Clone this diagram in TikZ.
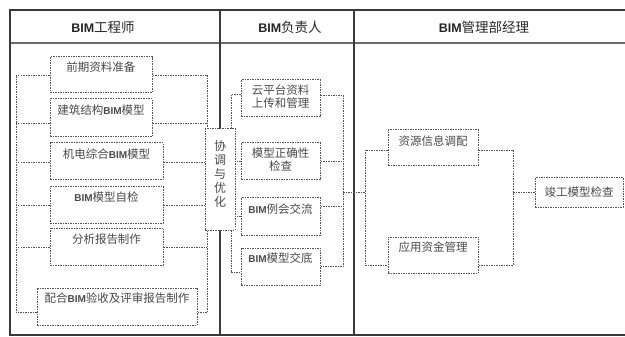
\documentclass[tikz,border=0pt]{standalone}
\usepackage{fontspec}
\newfontfamily\cjk{Noto Sans CJK SC}
\newfontfamily\latn{Liberation Sans}
\newcommand{\bimb}{{\latn\bfseries\fontsize{10}{13}\selectfont BIM}}
\newcommand{\bimh}{{\latn\bfseries\fontsize{12.5}{15}\selectfont BIM}}
\definecolor{framegray}{HTML}{3A3A3A}
\definecolor{rulegray}{HTML}{6A6A6A}
\definecolor{dotgray}{HTML}{555555}
\definecolor{txtgray}{HTML}{4A4A4A}

\begin{document}
\begin{tikzpicture}[x=1pt, y=-1pt,
  frame/.style={line width=1.8pt, draw=framegray},
  rule/.style={line width=1.2pt, draw=rulegray},
  link/.style={line width=0.9pt, draw=dotgray, dash pattern=on 1.5pt off 1pt},
  dotbox/.style={link, line width=1pt, fill=white, inner sep=0pt},
  boxtext/.style={anchor=north, inner sep=0pt, align=center, text=txtgray, font=\cjk\fontsize{11.5}{13}\selectfont},
  head/.style={inner sep=0pt, text=black!85, font=\cjk\fontsize{13.5}{15}\selectfont}]

\useasboundingbox (0,0) rectangle (625,337);

\draw[rule] (10,43) -- (625,43);
\draw[frame] (625,10) -- (10,10) -- (10,335) -- (625,335);
\draw[frame] (220,10) -- (220,335);
\draw[frame] (354,10) -- (354,335);

\node[head] (h1) at (103,27) {\bimh 工程师};
\node[head] (h2) at (290,27) {\bimh 负责人};
\node[head] (h3) at (484,27) {\bimh 管理部经理};

\node[dotbox, minimum width=102pt, minimum height=36pt] (c1a) at (101,75) {};
\node[dotbox, minimum width=102pt, minimum height=38pt] (c1b) at (101,118) {};
\node[dotbox, minimum width=113pt, minimum height=37pt] (c1c) at (106.5,161.5) {};
\node[dotbox, minimum width=113pt, minimum height=36pt] (c1d) at (106.5,205) {};
\node[dotbox, minimum width=113pt, minimum height=37pt] (c1e) at (106.5,246.5) {};
\node[dotbox, minimum width=160pt, minimum height=37pt] (c1f) at (117,306.5) {};

\node[dotbox, minimum width=79pt, minimum height=37pt] (c2a) at (280.5,98.5) {};
\node[dotbox, minimum width=79pt, minimum height=37pt] (c2b) at (280.5,161.5) {};
\node[dotbox, minimum width=79pt, minimum height=37pt] (c2c) at (280.5,216.5) {};
\node[dotbox, minimum width=79pt, minimum height=37pt] (c2d) at (280.5,266.5) {};

\node[dotbox, minimum width=90pt, minimum height=36pt] (c3a) at (433,148) {};
\node[dotbox, minimum width=90pt, minimum height=36pt] (c3b) at (433,255) {};
\node[dotbox, minimum width=88pt, minimum height=29pt, text=txtgray, font=\cjk\fontsize{11.5}{13}\selectfont] (c3c) at (579,192.5) {竣工模型检查};

\node[boxtext] (t1a) at ([yshift=-5pt]c1a.north) {前期资料准备};
\node[boxtext] (t1b) at ([yshift=-6pt]c1b.north) {建筑结构\bimb 模型};
\node[boxtext] (t1c) at ([yshift=-6pt]c1c.north) {机电综合\bimb 模型};
\node[boxtext] (t1d) at ([yshift=-5pt]c1d.north) {\bimb 模型自检};
\node[boxtext] (t1e) at ([yshift=-6pt]c1e.north) {分析报告制作};
\node[boxtext] (t1f) at ([yshift=-5pt]c1f.north) {配合\bimb 验收及评审报告制作};

\node[boxtext] (t2a) at ([yshift=-5pt]c2a.north) {云平台资料\\上传和管理};
\node[boxtext] (t2b) at ([yshift=-5pt]c2b.north) {模型正确性\\检查};
\node[boxtext] (t2c) at ([yshift=-6pt]c2c.north) {\bimb 例会交流};
\node[boxtext] (t2d) at ([yshift=-5pt]c2d.north) {\bimb 模型交底};

\node[boxtext] (t3a) at ([yshift=-6pt]c3a.north) {资源信息调配};
\node[boxtext] (t3b) at ([yshift=-5pt]c3b.north) {应用资金管理};

\coordinate (l1) at (16,0);
\coordinate (r1) at (207,0);
\coordinate (l2) at (231,0);
\coordinate (r2) at (343,0);
\coordinate (l3) at (365,0);
\coordinate (r3) at (513,0);

\draw[link] (c1a.west) -| ([yshift=-6pt]c1f.west -| l1) -- ([yshift=-6pt]c1f.west);
\draw[link] (c1a.east) -| ([yshift=-6pt]c1f.east -| r1) -- ([yshift=-6pt]c1f.east);
\foreach \b/\s in {c1b/-5pt, c1c/-1pt, c1d/0pt, c1e/-1pt} {
  \draw[link] ([yshift=\s]\b.west) -- ([yshift=\s]\b.west -| l1);
  \draw[link] ([yshift=\s]\b.east) -- ([yshift=\s]\b.east -| r1);
}

\draw[link] ([yshift=4pt]c2a.west) -| ([yshift=-6pt]c2d.west -| l2) -- ([yshift=-6pt]c2d.west);
\draw[link] ([yshift=3pt]c2a.east) -| (c2d.east -| r2) -- (c2d.east);
\draw[link] (c2b.west) -- (c2b.west -| l2);
\draw[link] (c2c.west) -- (c2c.west -| l2);
\draw[link] (c2b.east) -- (c2b.east -| r2);
\draw[link] ([yshift=10pt]c2c.east) -- ([yshift=10pt]c2c.east -| r2);
\draw[link] (r2 |- c3c.west) -- (l3 |- c3c.west);

\draw[link] ([yshift=-2pt]c3a.west) -| ([yshift=-10pt]c3b.west -| l3) -- ([yshift=-10pt]c3b.west);
\draw[link] ([yshift=-2pt]c3a.east) -| ([yshift=-10pt]c3b.east -| r3) -- ([yshift=-10pt]c3b.east);
\draw[link] (r3 |- c3c.west) -- (c3c.west);

\node[dotbox, minimum width=30pt, minimum height=101pt] (xt) at (220,179.5) {};
\node[boxtext, anchor=center, font=\cjk\fontsize{12}{14}\selectfont] (xtt) at (220,174) {协\\调\\与\\优\\化};

\end{tikzpicture}
\end{document}
